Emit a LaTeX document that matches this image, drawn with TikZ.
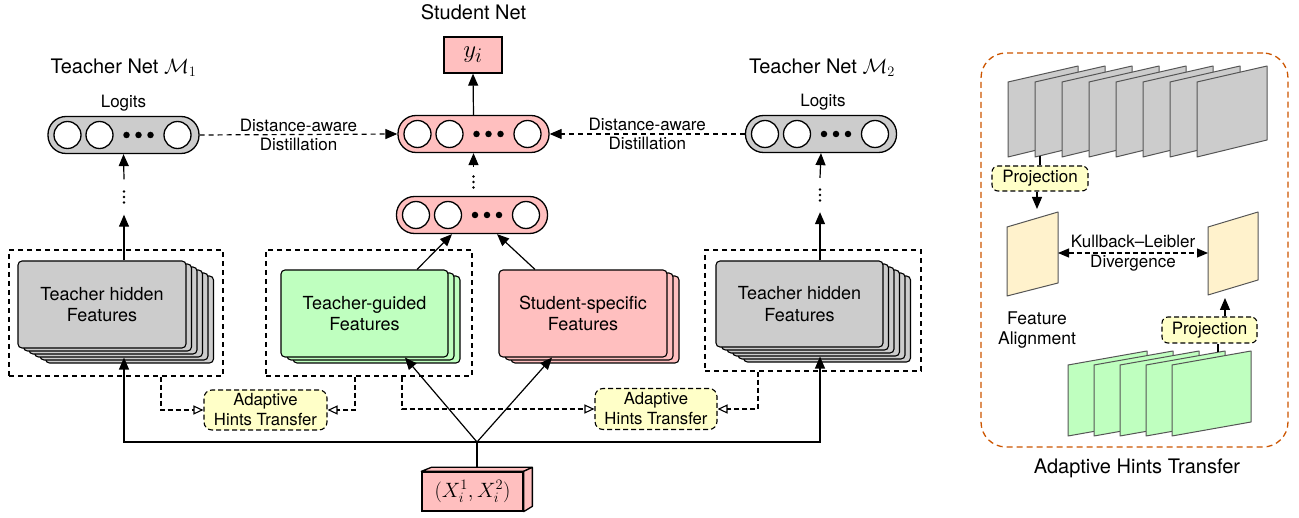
\documentclass[tikz,border=0pt]{standalone}
\usepackage[no-math]{fontspec}
\setmainfont{TeX Gyre Heros}
\usetikzlibrary{arrows.meta,calc}
\definecolor{tgray}{HTML}{CCCCCC}
\definecolor{spink}{HTML}{FFBFBF}
\definecolor{sgreen}{HTML}{BFFFBF}
\definecolor{hyellow}{HTML}{FFFFC8}
\definecolor{fbeige}{HTML}{FFF2CC}
\definecolor{aorange}{HTML}{CC5500}
\definecolor{sheetline}{HTML}{555555}
\newcommand\mkpill[4]{%
  \node[pill, fill=#4] (#1) at (#2,#3) {};
  \node[unit] (#1c1) at ($(#1)+(-56,0)$) {};
  \node[unit] (#1c2) at ($(#1)+(-24,0)$) {};
  \node[dotc] (#1d1) at ($(#1)+(3,0)$) {};
  \node[dotc] (#1d2) at ($(#1)+(15,0)$) {};
  \node[dotc] (#1d3) at ($(#1)+(27,0)$) {};
  \node[unit] (#1c4) at ($(#1)+(54,0)$) {};
}
\newcommand\mkstack[9]{%
  \foreach \k in {#6,...,1} {\node[layer, fill=#8, minimum width=#4pt, minimum height=#5pt] (#1-\k) at (#2+#7*\k, #3+3*\k) {};}
  \node[layer, fill=#8, minimum width=#4pt, minimum height=#5pt, align=center, font=\fontsize{18}{21.5}\selectfont] (#1) at (#2,#3) {#9};
}
\newcommand\mkvdots[4]{%
  \node[inner sep=0pt, minimum width=4pt, minimum height=#4pt] (#1) at (#2,#3) {};
  \fill ($(#1.center)+(0,-5.5)$) circle (1.4);
  \fill (#1.center) circle (1.4);
  \fill ($(#1.center)+(0,5.5)$) circle (1.4);
}
\begin{document}
\begin{tikzpicture}[x=1pt,y=-1pt,
  every node/.style={font=\fontsize{17}{19}\selectfont},
  pill/.style={draw, line width=1.3pt, rounded corners=18pt, minimum width=151pt, minimum height=37pt, inner sep=0pt},
  unit/.style={draw, circle, fill=white, line width=1.3pt, minimum size=27pt, inner sep=0pt},
  dotc/.style={circle, fill=black, minimum size=6.5pt, inner sep=0pt},
  layer/.style={draw, line width=1.1pt, rounded corners=4pt, inner sep=0pt},
  group/.style={draw, line width=1.1pt, dash pattern=on 5pt off 4pt, inner sep=0pt},
  hint/.style={draw, line width=1.1pt, dash pattern=on 5pt off 3pt, fill=hyellow, rounded corners=8pt, align=center, inner sep=0pt, font=\fontsize{16.7}{20}\selectfont},
  arr/.style={-{Triangle[length=12pt,width=10pt]}, line width=1.2pt},
  oarr/.style={-{Triangle[open,length=10pt,width=9pt]}, line width=1.1pt, dash pattern=on 5pt off 3pt},
  title/.style={font=\fontsize{20}{22}\selectfont},
  sheet/.style={draw=sheetline, line width=1pt, line join=round},
]
\useasboundingbox (0,0) rectangle (1299,518);

% ---------- titles ----------
\node[title] (stitle) at (473.5,12) {Student Net};
\node[title] (t1title) at (123.5,68) {Teacher Net $\mathcal{M}_1$};
\node[title] (t2title) at (822,68) {Teacher Net $\mathcal{M}_2$};
\node (t1log) at (123.5,103) {Logits};
\node (t2log) at (823,102) {Logits};

% ---------- output ----------
\node[draw, line width=1.3pt, fill=spink, minimum width=58pt, minimum height=36pt, inner sep=0pt, font=\fontsize{29}{29}\selectfont] (Y) at (473,55) {$y_i$};

% ---------- pills ----------
\mkpill{T1p}{123.5}{135}{tgray}
\mkpill{STp}{473.5}{134}{spink}
\mkpill{SMp}{472}{215}{spink}
\mkpill{T2p}{821}{134}{tgray}

% ---------- dashed groups ----------
\node[group, minimum width=214pt, minimum height=126pt] (G1) at (116,313) {};
\node[group, minimum width=206pt, minimum height=126pt] (G2) at (369,313) {};
\node[group, minimum width=216pt, minimum height=121pt] (G3) at (813,310.5) {};

% ---------- stacks ----------
\mkstack{T1}{102}{304.5}{168}{87}{5}{5.5}{tgray}{Teacher hidden\\Features}
\mkstack{GF}{364.5}{313.5}{167}{87}{2}{6}{sgreen}{Teacher-guided\\Features}
\mkstack{PF}{583}{313.5}{168}{87}{2}{6}{spink}{Student-specific\\Features}
\mkstack{T2}{799.5}{304}{167}{86}{5}{5.5}{tgray}{Teacher hidden\\Features}

% ---------- vertical dots ----------
\mkvdots{T1v}{124}{197}{35}
\mkvdots{T2v}{820}{195}{34}
\mkvdots{Sv}{473.5}{182}{30}

\draw[arr] ([xshift=22pt]T1.north) -- (T1v.south);
\draw[arr] (T1v.north) -- (T1p.south);
\draw[arr] ([xshift=20.5pt]T2.north) -- (T2v.south);
\draw[arr] (T2v.north) -- (T2p.south);
\draw[arr] (Sv.north) -- (STp.south);
\draw[arr] (STp.north) -- (Y.south);
\draw[arr] ([xshift=52.5pt]GF.north) -- ([xshift=-20pt]SMp.south);
\draw[arr] ([xshift=-48pt]PF.north) -- ([xshift=25pt]SMp.south);

% ---------- distillation ----------
\draw[arr, dash pattern=on 5pt off 4pt] (T1p.east) -- (STp.west)
  node[midway, align=center, inner sep=0pt] (d1) {Distance-aware\\Distillation};
\draw[arr, dash pattern=on 5pt off 4pt] (T2p.west) -- (STp.east)
  node[midway, align=center, inner sep=0pt] (d2) {Distance-aware\\Distillation};

% ---------- hints ----------
\node[hint, minimum width=123pt, minimum height=40pt] (H1) at (265.5,410) {Adaptive\\Hints Transfer};
\node[hint, minimum width=122pt, minimum height=41pt] (H2) at (656,409) {Adaptive\\Hints Transfer};
\draw[oarr] ([xshift=45pt]G1.south) |- (H1.west);
\draw[oarr] ([xshift=-14pt]G2.south) |- (H1.east);
\draw[oarr] ([xshift=33pt]G2.south) |- (H2.west);
\draw[oarr] ([xshift=-55pt]G3.south) |- (H2.east);

% ---------- input ----------
\node[draw, line width=1.3pt, fill=spink, minimum width=101pt, minimum height=39pt, inner sep=0pt, font=\fontsize{22}{22}\selectfont] (X) at (472.5,491.5) {$(X_i^1, X_i^2)$};
\draw[line width=1.3pt, fill=spink, line join=round] (X.north west) -- ++(10,-4) coordinate (Xtl) -- ++(101,0) coordinate (Xtr) -- (X.north east) -- cycle;
\draw[line width=1.3pt, fill=spink, line join=round] (X.north east) -- (Xtr) -- ++(0,39) -- (X.south east) -- cycle;
\coordinate (J) at (477,442);
\draw[line width=1.2pt] (J |- Xtl) -- (J);
\draw[arr] (J) -| ([xshift=5.5pt]T1-3.south);
\draw[arr] (J) -| ([xshift=4pt]T2-3.south);
\draw[arr] (J) -- ([xshift=40.5pt]GF.south);
\draw[arr] (J) -- ([xshift=-31pt]PF.south);

% ---------- right panel ----------
\node[draw=aorange, line width=1.3pt, dash pattern=on 6pt off 4pt, rounded corners=25pt, minimum width=307pt, minimum height=394pt, inner sep=0pt] (AHT) at (1134.5,250) {};
\node[title] (ahttitle) at (1137,468) {Adaptive Hints Transfer};

\foreach \i in {0,...,7} {
  \draw[sheet, fill=tgray] (1008+27*\i,157) -- ++(0,-75) -- ++(70,-16) -- ++(0,74) -- cycle;
}
\foreach \i in {0,...,4} {
  \draw[sheet, fill=sgreen] (1068+26*\i,436) -- ++(0,-71) -- ++(79,-14) -- ++(0,71) -- cycle;
}
\draw[sheet, fill=fbeige] (1007,296) -- (1007,227) -- (1058,212) -- (1058,283) -- cycle;
\draw[sheet, fill=fbeige] (1208,295) -- (1208,227) -- (1258,212) -- (1258,280) -- cycle;

\node[hint, rounded corners=6pt, minimum width=96pt, minimum height=25pt, font=\fontsize{17}{19}\selectfont] (P1) at (1040,178.5) {Projection};
\node[hint, rounded corners=6pt, minimum width=95pt, minimum height=26pt, font=\fontsize{17}{19}\selectfont] (P2) at (1209.5,330) {Projection};

\coordinate (g1b) at (1040,156);
\coordinate (b1t) at (1037,209);
\coordinate (b2b) at (1225,298);
\coordinate (gnt) at (1218,352);
\coordinate (b1r) at (1058,253);
\coordinate (b2l) at (1208,253);
\draw[line width=1.1pt] (g1b) -- (P1.north -| g1b);
\draw[arr] (P1.south -| b1t) -- (b1t);
\draw[line width=1.1pt] (gnt) -- (P2.south -| gnt);
\draw[arr] (P2.north -| b2b) -- (b2b);
\draw[{Triangle[length=11pt,width=9pt]}-{Triangle[length=11pt,width=9pt]}, line width=1.1pt, dash pattern=on 5pt off 3pt] (b1r) -- (b2l)
  node[midway, align=center, inner sep=0pt, font=\fontsize{17}{20}\selectfont] (kl) {Kullback--Leibler\\Divergence};
\node[align=center, font=\fontsize{17.5}{20}\selectfont] (fa) at (1037,330) {Feature\\Alignment};
\end{tikzpicture}
\end{document}
